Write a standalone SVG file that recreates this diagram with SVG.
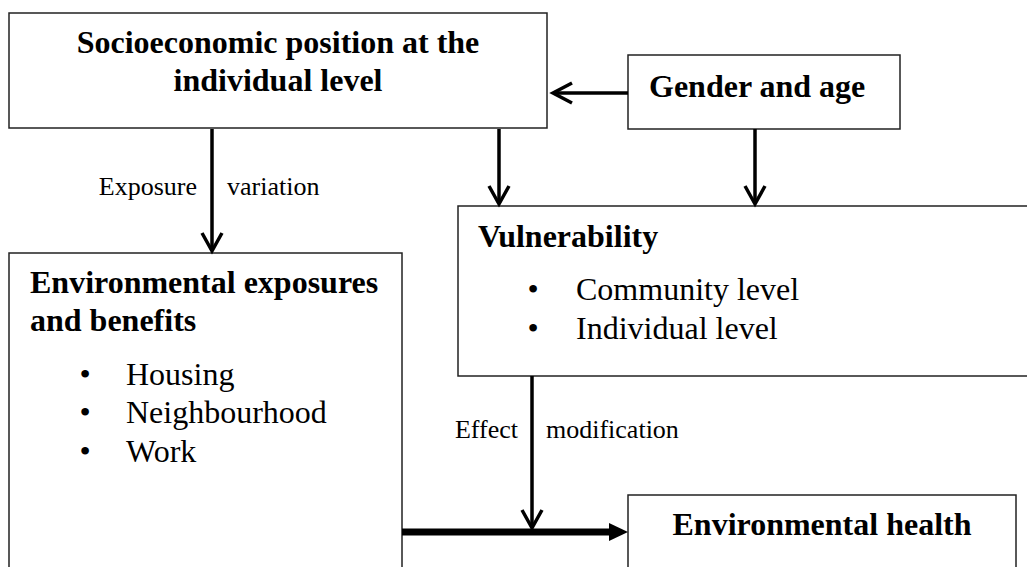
<svg xmlns="http://www.w3.org/2000/svg" width="1027" height="567" viewBox="0 0 1027 567">
<style>
.box{fill:#fff;stroke:#222;stroke-width:1.5}
.t{font-family:"Liberation Serif","Times New Roman",serif;fill:#000}
.b{font-weight:bold;font-size:32px}
.r{font-size:32px}
.l{font-size:26px}
.c{stroke:#000;stroke-width:3.5;fill:none}
.h{stroke:#000;stroke-width:3.5;fill:none;stroke-linecap:butt;stroke-linejoin:miter}
</style>
<rect width="1027" height="567" fill="#fff"/>
<g id="ses">
<rect class="box" x="9" y="13" width="538" height="115"/>
<text class="t b" x="278" y="53" text-anchor="middle">Socioeconomic position at the</text>
<text class="t b" x="278" y="91" text-anchor="middle">individual level</text>
</g>
<g id="gender">
<rect class="box" x="628" y="55" width="272" height="74"/>
<text class="t b" x="649" y="97">Gender and age</text>
</g>
<g id="vulnerability">
<rect class="box" x="458" y="206" width="620" height="170"/>
<text class="t b" x="478" y="247">Vulnerability</text>
<text class="t r" x="533" y="300" text-anchor="middle">•</text>
<text class="t r" x="576" y="300">Community level</text>
<text class="t r" x="533" y="339" text-anchor="middle">•</text>
<text class="t r" x="576" y="339">Individual level</text>
</g>
<g id="exposures">
<rect class="box" x="9" y="253" width="393" height="400"/>
<text class="t b" x="30" y="293">Environmental exposures</text>
<text class="t b" x="30" y="331">and benefits</text>
<text class="t r" x="85" y="385" text-anchor="middle">•</text>
<text class="t r" x="126" y="385">Housing</text>
<text class="t r" x="85" y="423" text-anchor="middle">•</text>
<text class="t r" x="126" y="423">Neighbourhood</text>
<text class="t r" x="85" y="462" text-anchor="middle">•</text>
<text class="t r" x="126" y="462">Work</text>
</g>
<g id="health">
<rect class="box" x="628" y="495" width="388" height="120"/>
<text class="t b" x="822" y="535" text-anchor="middle">Environmental health</text>
</g>
<g id="connectors">
<!-- gender -> ses -->
<line class="c" x1="628" y1="93" x2="554" y2="93"/>
<polyline class="h" points="572,83 553,93 572,103"/>
<!-- ses -> exposures -->
<line class="c" x1="212" y1="129" x2="212" y2="250"/>
<polyline class="h" points="202,233 212,251 222,233"/>
<!-- ses -> vulnerability -->
<line class="c" x1="499" y1="129" x2="499" y2="203"/>
<polyline class="h" points="489,186 499,204 509,186"/>
<!-- gender -> vulnerability -->
<line class="c" x1="755" y1="129" x2="755" y2="203"/>
<polyline class="h" points="745,186 755,204 765,186"/>
<!-- vulnerability -> main arrow -->
<line class="c" x1="532" y1="376" x2="532" y2="527"/>
<polyline class="h" points="522,510 532,528 542,510"/>
<!-- exposures -> health -->
<line x1="402" y1="532" x2="611" y2="532" stroke="#000" stroke-width="7"/>
<polygon points="609,523 628,532 609,541" fill="#000"/>
<text class="t l" x="197" y="195" text-anchor="end">Exposure</text>
<text class="t l" x="227" y="195">variation</text>
<text class="t l" x="518" y="438" text-anchor="end">Effect</text>
<text class="t l" x="546" y="438">modification</text>
</g>
</svg>
